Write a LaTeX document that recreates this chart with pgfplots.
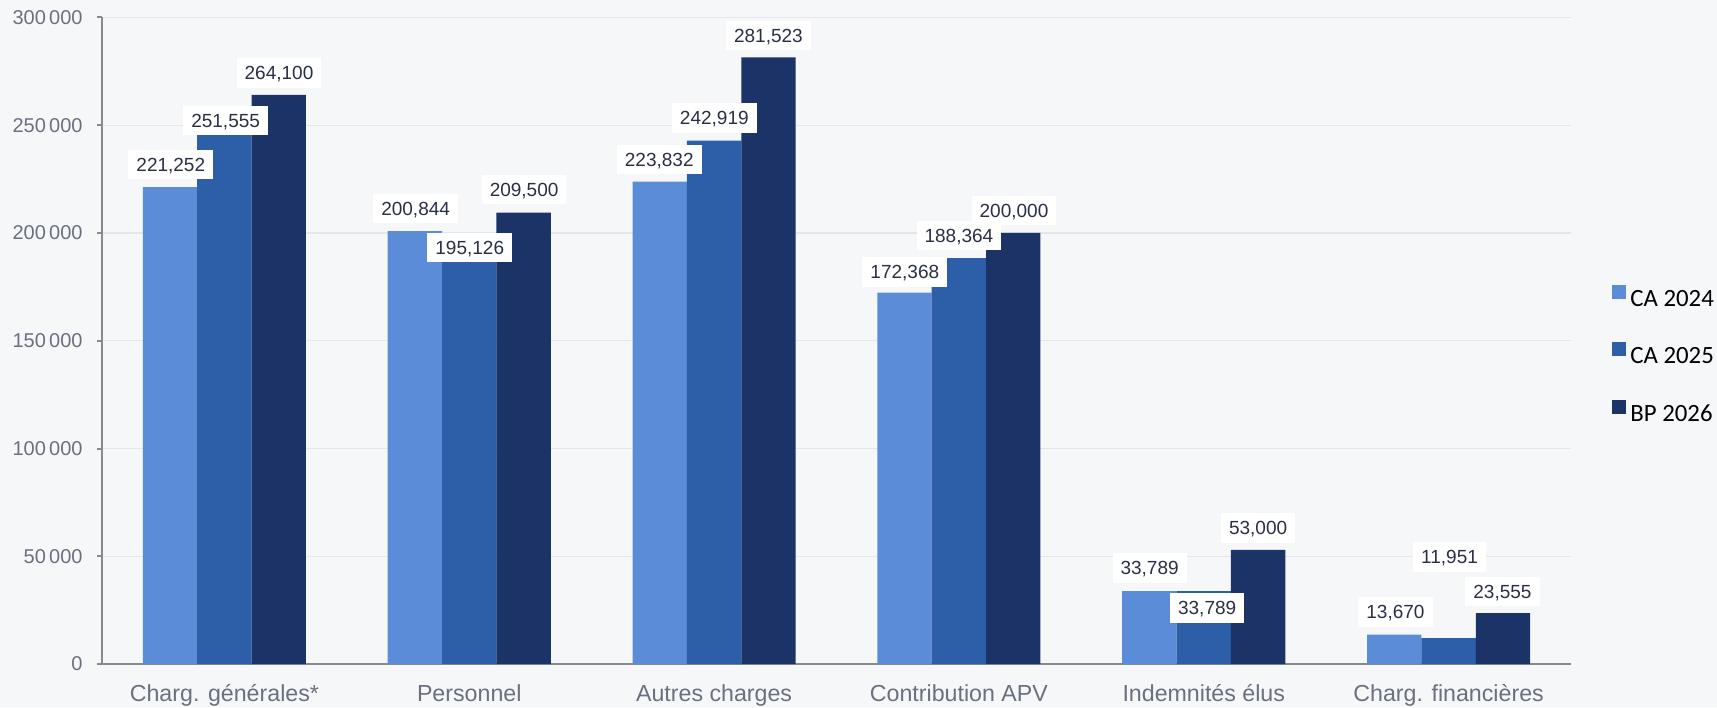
\documentclass[border=0pt]{standalone}
\usepackage{pgfplots}
\pgfplotsset{compat=1.18}
\usepackage{pgfplotstable}
\usepackage{fontspec}
\setmainfont{Liberation Sans}
\newfontfamily\legendfont{Carlito}
\definecolor{bg}{HTML}{F6F7F9}
\definecolor{gridc}{HTML}{E4E6EA}
\definecolor{axisc}{HTML}{8A8A8A}
\definecolor{tickc}{HTML}{6B7080}
\definecolor{labc}{HTML}{2B2F45}
\definecolor{ca24}{HTML}{5B8CD7}
\definecolor{ca25}{HTML}{2D5EA8}
\definecolor{bp26}{HTML}{1B3366}

\pgfplotstableread{
x y
0 221252
1 200844
2 223832
3 172368
4 33789
5 13670
}\caA
\pgfplotstableread{
x y
0 251555
1 195126
2 242919
3 188364
4 33789
5 11951
}\caB
\pgfplotstableread{
x y
0 264100
1 209500
2 281523
3 200000
4 53000
5 23555
}\bpC
% label positions (x, y of box centre) and text
\pgfplotstableread{
x y label
-0.219 231730 221,252
0.781 211300 200,844
1.776 234100 223,832
2.779 181950 172,368
3.779 44490 33,789
4.783 24060 13,670
0.005 252170 251,555
1.002 193190 195,126
2.001 253470 242,919
3.000 198900 188,364
4.014 25910 33,789
5.004 49690 11,951
0.223 274370 264,100
1.224 220120 209,500
2.222 291640 281,523
3.225 210510 200,000
4.222 63070 53,000
5.220 33670 23,555
}\labels

\begin{document}
\begin{tikzpicture}
\path[use as bounding box, fill=bg] (-51pt,-21.5pt) rectangle (807.5pt,332pt);
\begin{axis}[
  scale only axis,
  width=734.5pt, height=323.25pt,
  xmin=-0.5, xmax=5.5,
  ymin=0, ymax=300000,
  axis x line=bottom, axis y line=left,
  axis line style={-, draw=axisc, line width=1pt},
  tick align=outside,
  ytick={0,50000,100000,150000,200000,250000,300000},
  yticklabels={0, 50\thinspace000, 100\thinspace000, 150\thinspace000, 200\thinspace000, 250\thinspace000, 300\thinspace000},
  scaled y ticks=false,
  yticklabel style={font=\fontsize{10}{12}\selectfont, text=tickc, anchor=east, inner sep=0pt, xshift=-7pt},
  ytick style={draw=axisc, line width=1pt},
  major tick length=2.5pt,
  ymajorgrids,
  grid style={draw=gridc, line width=0.6pt},
  xtick={0,1,2,3,4,5},
  xticklabels={Charg. générales*, Personnel, Autres charges, Contribution APV, Indemnités élus, Charg. financières},
  xticklabel style={font=\fontsize{11.6}{13}\selectfont, text=tickc, anchor=base, yshift=-16pt},
  xtick style={draw=none},
  extra x ticks={-0.5,0.5,1.5,2.5,3.5,4.5,5.5},
  extra x tick labels={\empty},
  extra x tick style={major tick length=4.7pt, tick style={draw=axisc, line width=1pt}, grid=none},
  legend style={draw=none, fill=none, inner sep=0pt, at={(1.0279,0.4757)}, anchor=west,
    font=\legendfont\fontsize{12.4}{14}\selectfont, row sep=14.3pt,
    cells={anchor=west, inner sep=0pt, text height=8.2pt, text depth=0pt},
    /tikz/every even column/.append style={column sep=4pt}},
  legend image code/.code={\fill[#1] (0pt,0.6pt) rectangle (7pt,7.6pt);},
  clip=false,
]
\addplot[ybar, bar width=0.222, bar shift=-0.222, fill=ca24, draw=none] table[x=x,y=y]{\caA};
\addlegendentry{CA 2024}
\addplot[ybar, bar width=0.222, bar shift=0, fill=ca25, draw=none] table[x=x,y=y]{\caB};
\addlegendentry{CA 2025}
\addplot[ybar, bar width=0.222, bar shift=0.222, fill=bp26, draw=none] table[x=x,y=y]{\bpC};
\addlegendentry{BP 2026}
\addplot[forget plot, draw=none, mark=none, only marks,
  nodes near coords={\pgfplotspointmeta}, point meta=explicit symbolic,
  nodes near coords style={anchor=center, font=\fontsize{9.5}{10}\selectfont, text=labc,
    fill=white, inner xsep=4pt, inner ysep=4pt, text height=6.8pt, text depth=0pt}]
  table[x=x,y=y,meta=label]{\labels};
\end{axis}
\end{tikzpicture}
\end{document}
